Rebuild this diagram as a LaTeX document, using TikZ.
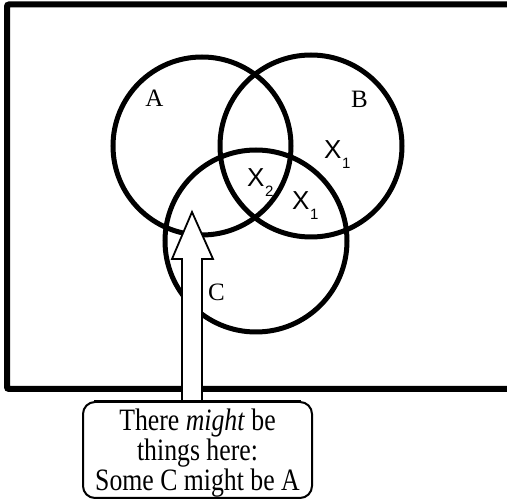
\documentclass[tikz,border=0pt]{standalone}
\usepackage{graphicx}
\usepackage{fontspec}
\setmainfont{Liberation Serif}
\newfontfamily\xsans{Liberation Sans}
\usetikzlibrary{calc}
\newcommand{\xsub}[1]{\kern0.5pt\raisebox{-10pt}{\fontsize{15}{15}\selectfont #1}}
\begin{document}
\begin{tikzpicture}[x=1pt,y=-1pt,
  frame/.style={draw, line width=6pt, rounded corners=2pt},
  circ/.style={draw, circle, line width=5pt, inner sep=0pt},
  lab/.style={inner sep=0pt, font=\fontsize{25}{25}\selectfont},
  xl/.style={inner sep=0pt, anchor=base west, font=\xsans\fontsize{26}{26}\selectfont},
  arrowshape/.style={line width=1.8pt, line join=miter},
  callout/.style={draw, fill=white, line width=2pt, rounded corners=12pt,
    minimum width=229pt, minimum height=96pt, inner sep=0pt}]
\useasboundingbox (0,0) rectangle (507,502);
% frame
\draw[frame] (507,4.5) -- (7,4.5) -- (7,389) -- (507,389);
% circles
\node[circ, minimum size=178pt] (A) at (202,146) {};
\node[circ, minimum size=182pt] (B) at (311,146) {};
\node[circ, minimum size=182pt] (C) at (256,241) {};
% labels
\node[lab] (la) at (154.5,98.5) {A};
\node[lab] (lb) at (359.5,99) {B};
\node[lab] (lc) at (216.5,292.5) {C};
\node[xl] (x1a) at (324,159) {X\xsub{1}};
\node[xl] (x2) at (247,187) {X\xsub{2}};
\node[xl] (x1b) at (292,210) {X\xsub{1}};
% callout box
\node[callout] (box) at (197.5,450)
  {\raisebox{-4pt}[\height][\depth]{\scalebox{1.01}[1.22]{\fontsize{25.5}{24}\selectfont\begin{tabular}{@{}c@{}}There \textit{might} be\\ things here:\\ Some C might be A\end{tabular}}}};
% arrow
\coordinate (sl) at ($(box.north)+(-15.5,0)$);
\coordinate (sr) at ($(box.north)+(4.5,0)$);
\coordinate (tip) at (192,212);
\fill[white] (sl) -- (182,259) -- (172,259) -- (tip) -- (213,259) -- (202,259) -- (sr) -- cycle;
\draw[arrowshape] (sl) -- (182,259) -- (172,259) -- (tip) -- (213,259) -- (202,259) -- (sr);
\draw[line width=2pt] ($(box.north west)+(12,0)$) -- ($(box.north east)+(-12,0)$);
\end{tikzpicture}
\end{document}
